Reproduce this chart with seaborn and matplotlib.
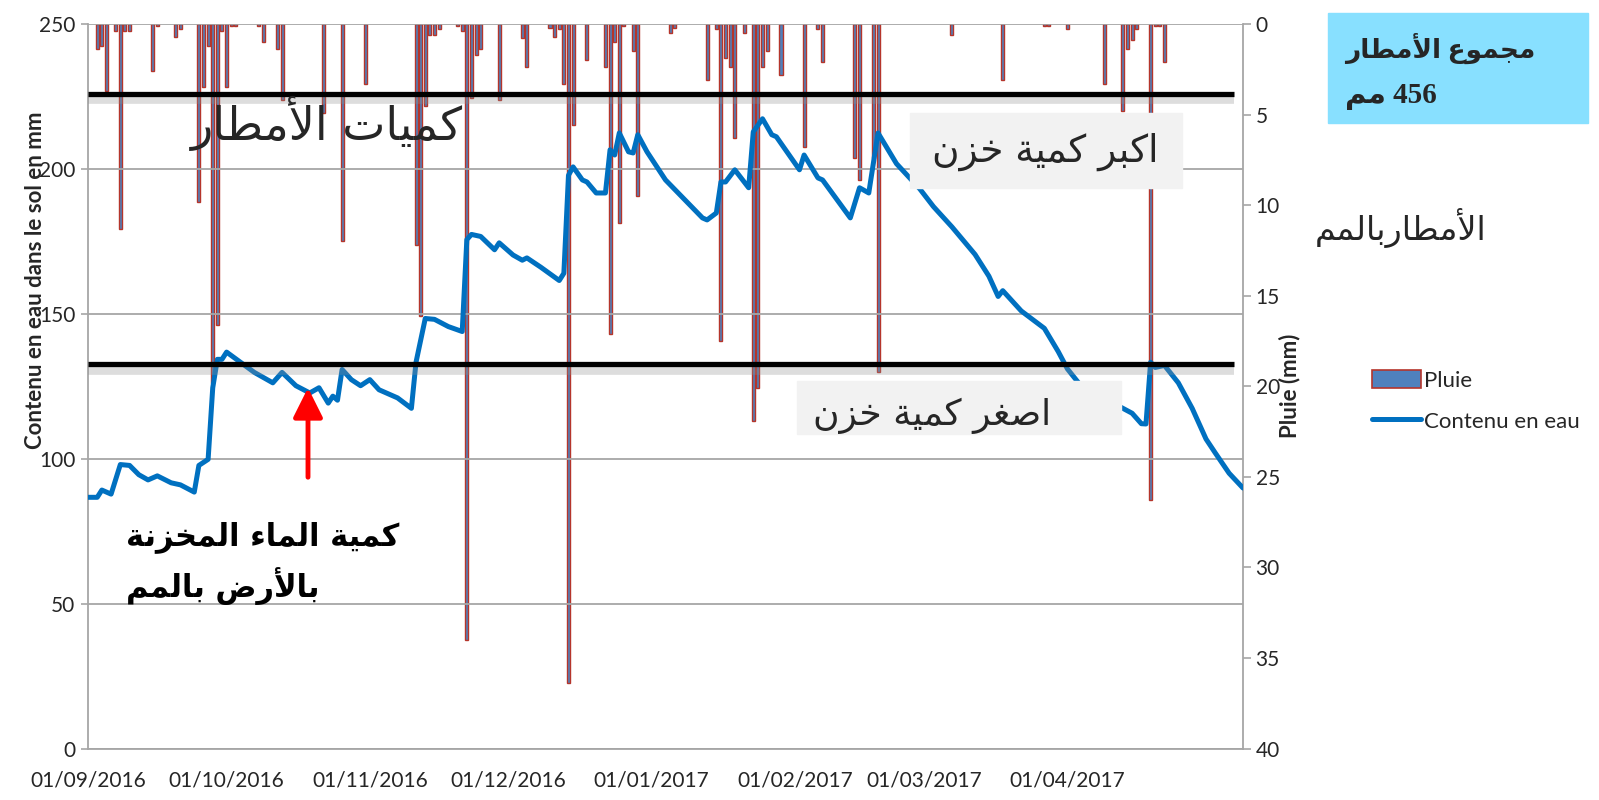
import numpy as np
import pandas as pd
import seaborn as sns
import matplotlib.pyplot as plt
import matplotlib.dates as mdates
import matplotlib.patheffects as pe
from matplotlib.patches import Rectangle, Patch, FancyArrowPatch
from matplotlib.lines import Line2D

# daily rain (mm), only the wet days
rain_dates = [
    "2016-09-03", "2016-09-04", "2016-09-05", "2016-09-07", "2016-09-08", "2016-09-09",
    "2016-09-10", "2016-09-15", "2016-09-16", "2016-09-20", "2016-09-21", "2016-09-25",
    "2016-09-26", "2016-09-27", "2016-09-28", "2016-09-29", "2016-09-30", "2016-10-01",
    "2016-10-02", "2016-10-03", "2016-10-08", "2016-10-09", "2016-10-12", "2016-10-13",
    "2016-10-22", "2016-10-26", "2016-10-31", "2016-11-11", "2016-11-12", "2016-11-13",
    "2016-11-14", "2016-11-15", "2016-11-16", "2016-11-20", "2016-11-21", "2016-11-22",
    "2016-11-23", "2016-11-24", "2016-11-25", "2016-11-29", "2016-12-04", "2016-12-05",
    "2016-12-10", "2016-12-11", "2016-12-12", "2016-12-13", "2016-12-14", "2016-12-15",
    "2016-12-18", "2016-12-22", "2016-12-23", "2016-12-24", "2016-12-25", "2016-12-26",
    "2016-12-28", "2016-12-29", "2017-01-05", "2017-01-06", "2017-01-13", "2017-01-15",
    "2017-01-16", "2017-01-17", "2017-01-18", "2017-01-19", "2017-01-21", "2017-01-23",
    "2017-01-24", "2017-01-25", "2017-01-26", "2017-01-29", "2017-02-03", "2017-02-06",
    "2017-02-07", "2017-02-14", "2017-02-15", "2017-02-18", "2017-02-19", "2017-03-07",
    "2017-03-18", "2017-03-27", "2017-03-28", "2017-04-01", "2017-04-09", "2017-04-13",
    "2017-04-14", "2017-04-15", "2017-04-16", "2017-04-19", "2017-04-20", "2017-04-21",
    "2017-04-22",
]
rain_mm = [
    1.4, 1.2, 3.7, 0.4, 11.3, 0.4,
    0.4, 2.6, 0.1, 0.7, 0.3, 9.8,
    3.5, 1.2, 19.8, 16.6, 0.4, 3.5,
    0.1, 0.1, 0.1, 1.0, 1.4, 4.2,
    4.9, 12.0, 3.3, 12.2, 16.1, 4.5,
    0.6, 0.6, 0.3, 0.1, 0.4, 34.0,
    4.1, 1.7, 1.4, 4.2, 0.8, 2.4,
    0.2, 0.7, 0.3, 3.3, 36.4, 5.6,
    2.0, 2.4, 17.1, 1.0, 11.0, 0.1,
    1.5, 9.5, 0.5, 0.2, 3.1, 0.3,
    17.5, 1.9, 2.4, 6.3, 0.5, 21.9,
    20.1, 2.4, 1.5, 2.8, 6.8, 0.3,
    2.1, 7.4, 8.6, 7.4, 19.2, 0.6,
    3.1, 0.1, 0.1, 0.3, 3.3, 4.8,
    1.4, 0.9, 0.3, 26.3, 0.1, 0.1,
    2.1,
]

# soil water content (mm)
water_dates = [
    "2016-09-01", "2016-09-03", "2016-09-04", "2016-09-06", "2016-09-08", "2016-09-10",
    "2016-09-12", "2016-09-14", "2016-09-16", "2016-09-19", "2016-09-21", "2016-09-24",
    "2016-09-25", "2016-09-27", "2016-09-28", "2016-09-29", "2016-09-30", "2016-10-01",
    "2016-10-04", "2016-10-07", "2016-10-09", "2016-10-11", "2016-10-13", "2016-10-16",
    "2016-10-19", "2016-10-21", "2016-10-23", "2016-10-24", "2016-10-25", "2016-10-26",
    "2016-10-28", "2016-10-30", "2016-11-01", "2016-11-03", "2016-11-07", "2016-11-10",
    "2016-11-11", "2016-11-13", "2016-11-15", "2016-11-18", "2016-11-21", "2016-11-22",
    "2016-11-23", "2016-11-25", "2016-11-28", "2016-11-29", "2016-12-02", "2016-12-04",
    "2016-12-05", "2016-12-08", "2016-12-12", "2016-12-13", "2016-12-14", "2016-12-15",
    "2016-12-17", "2016-12-18", "2016-12-20", "2016-12-22", "2016-12-23", "2016-12-24",
    "2016-12-25", "2016-12-27", "2016-12-28", "2016-12-29", "2016-12-31", "2017-01-04",
    "2017-01-12", "2017-01-13", "2017-01-15", "2017-01-16", "2017-01-17", "2017-01-19",
    "2017-01-22", "2017-01-23", "2017-01-25", "2017-01-27", "2017-01-28", "2017-02-02",
    "2017-02-03", "2017-02-06", "2017-02-07", "2017-02-13", "2017-02-15", "2017-02-17",
    "2017-02-19", "2017-02-23", "2017-02-28", "2017-03-03", "2017-03-07", "2017-03-12",
    "2017-03-15", "2017-03-17", "2017-03-18", "2017-03-22", "2017-03-27", "2017-03-30",
    "2017-04-01", "2017-04-04", "2017-04-06", "2017-04-09", "2017-04-10", "2017-04-13",
    "2017-04-15", "2017-04-17", "2017-04-18", "2017-04-19", "2017-04-20", "2017-04-22",
    "2017-04-25", "2017-04-28", "2017-05-01", "2017-05-03", "2017-05-06", "2017-05-09",
]
water_mm = [
    86.7, 86.7, 89.2, 87.8, 98.0, 97.7,
    94.5, 92.7, 94.1, 91.7, 91.0, 88.5,
    97.7, 99.8, 124.5, 134.3, 134.3, 136.8,
    133.3, 129.8, 128.0, 126.2, 129.8, 125.2,
    122.7, 124.5, 119.2, 121.6, 120.2, 130.8,
    127.3, 125.2, 127.3, 123.8, 121.0, 117.4,
    133.3, 148.4, 148.1, 145.6, 143.9, 175.6,
    177.4, 176.7, 172.1, 174.5, 170.3, 168.5,
    169.3, 166.1, 161.5, 164.0, 197.8, 200.7,
    196.2, 195.5, 191.7, 191.7, 206.6, 204.8,
    212.4, 205.9, 205.5, 211.8, 205.9, 196.2,
    183.1, 182.4, 184.8, 195.5, 195.5, 199.7,
    193.5, 212.8, 217.3, 211.8, 211.1, 199.7,
    204.8, 196.9, 196.2, 183.1, 193.5, 191.7,
    212.4, 201.8, 193.2, 187.0, 180.0, 170.5,
    163.0, 156.0, 158.0, 151.0, 145.0, 137.0,
    131.0, 125.0, 121.0, 118.0, 120.0, 117.4,
    115.7, 112.1, 112.0, 133.3, 131.5, 132.2,
    126.2, 117.4, 106.8, 102.0, 95.0, 89.9,
]

month_ticks = ["2016-09-01", "2016-10-01", "2016-11-01", "2016-12-01",
               "2017-01-01", "2017-02-01", "2017-03-01", "2017-04-01"]
x_start, x_end = "2016-09-01", "2017-05-09"
max_storage, min_storage = 226.0, 132.6
level_end = "2017-05-07"
total_rain = 456

# Arabic presentation forms: isolated, final, initial, medial
FORMS = {
    "ا": ("\ufe8d", "\ufe8e", None, None),
    "أ": ("\ufe83", "\ufe84", None, None),
    "ب": ("\ufe8f", "\ufe90", "\ufe91", "\ufe92"),
    "ة": ("\ufe93", "\ufe94", None, None),
    "ت": ("\ufe95", "\ufe96", "\ufe97", "\ufe98"),
    "ج": ("\ufe9d", "\ufe9e", "\ufe9f", "\ufea0"),
    "خ": ("\ufea5", "\ufea6", "\ufea7", "\ufea8"),
    "ر": ("\ufead", "\ufeae", None, None),
    "ز": ("\ufeaf", "\ufeb0", None, None),
    "ص": ("\ufeb9", "\ufeba", "\ufebb", "\ufebc"),
    "ض": ("\ufebd", "\ufebe", "\ufebf", "\ufec0"),
    "ط": ("\ufec1", "\ufec2", "\ufec3", "\ufec4"),
    "ع": ("\ufec9", "\ufeca", "\ufecb", "\ufecc"),
    "غ": ("\ufecd", "\ufece", "\ufecf", "\ufed0"),
    "ك": ("\ufed9", "\ufeda", "\ufedb", "\ufedc"),
    "ل": ("\ufedd", "\ufede", "\ufedf", "\ufee0"),
    "م": ("\ufee1", "\ufee2", "\ufee3", "\ufee4"),
    "ن": ("\ufee5", "\ufee6", "\ufee7", "\ufee8"),
    "و": ("\ufeed", "\ufeee", None, None),
    "ي": ("\ufef1", "\ufef2", "\ufef3", "\ufef4"),
    "ء": ("\ufe80", None, None, None),
}
LAM_ALEF = {"ا": ("\ufefb", "\ufefc"), "أ": ("\ufef7", "\ufef8")}


def shape(text):
    # no shaping engine in matplotlib: join letters by hand, then flip to visual order
    out = []
    prev_dual = False
    i = 0
    while i < len(text):
        c = text[i]
        nxt = text[i + 1] if i + 1 < len(text) else " "
        if c == "ل" and nxt in LAM_ALEF:
            out.append(LAM_ALEF[nxt][1 if prev_dual else 0])
            prev_dual = False
            i += 2
            continue
        if c not in FORMS:
            out.append(c)
            prev_dual = False
            i += 1
            continue
        iso, fin, ini, med = FORMS[c]
        a = prev_dual and fin is not None
        b = ini is not None and nxt in FORMS and FORMS[nxt][1] is not None
        if a and b:
            g = med
        elif a:
            g = fin
        elif b:
            g = ini
        else:
            g = iso
        out.append(g)
        prev_dual = ini is not None
        i += 1
    return "".join(out[::-1])


sns.set_theme(style="white")
plt.rcParams["font.family"] = ["Lato", "DejaVu Sans"]

W, H = 1599, 800


def fx(px):
    return px / W


def fy(py):
    return 1 - py / H


rain = pd.DataFrame({"date": pd.to_datetime(rain_dates), "mm": rain_mm})
water = pd.DataFrame({"date": pd.to_datetime(water_dates), "mm": water_mm})

fig = plt.figure(figsize=(W / 100, H / 100), dpi=100)
ax = fig.add_axes([fx(88), fy(748.6), (1243 - 88) / W, 724.6 / H])
ax2 = ax.twinx()

grey = "#A6A6A6"

ax2.bar(rain["date"], rain["mm"], width=0.65, color="#4F81BD",
        edgecolor="#B5352B", linewidth=1.0, zorder=2)
ax2.set_ylim(40, 0)
ax2.set_yticks(range(0, 41, 5))

sns.lineplot(data=water, x="date", y="mm", ax=ax, color="#0070C0",
             linewidth=3.6, zorder=3, legend=False)
ax.set_zorder(ax2.get_zorder() + 1)
ax.patch.set_visible(False)

ax.set_ylim(0, 250)
ax.set_yticks(range(0, 251, 50))
ax.set_xlim(pd.Timestamp(x_start), pd.Timestamp(x_end))
ax.set_xticks(pd.to_datetime(month_ticks))
ax.xaxis.set_major_formatter(mdates.DateFormatter("%d/%m/%Y"))
ax.grid(axis="y", color=grey, linewidth=1.3)
ax.grid(axis="x", visible=False)

shadow = [pe.SimpleLineShadow(offset=(0, -4), shadow_color="#909090", alpha=0.3, linewidth=7), pe.Normal()]
ax.hlines([max_storage, min_storage], pd.Timestamp(x_start), pd.Timestamp(level_end),
          colors="black", linewidth=3.8, zorder=5, path_effects=shadow)

for a in (ax, ax2):
    for s in a.spines.values():
        s.set_visible(False)
ax.spines["left"].set_visible(True)
ax.spines["bottom"].set_visible(True)
ax2.spines["right"].set_visible(True)
for s in (ax.spines["left"], ax.spines["bottom"], ax2.spines["right"]):
    s.set_color(grey)
    s.set_linewidth(1.3)

ax.tick_params(axis="both", labelsize=15, colors="#262626", length=5, width=1.2,
               direction="out", color=grey)
ax.tick_params(axis="y", pad=4)
ax.tick_params(axis="x", pad=11)
ax2.tick_params(axis="y", labelsize=15, colors="#262626", length=6, width=1.2,
                direction="out", color=grey, pad=3, right=True)

ax.set_xlabel("")
ax.set_ylabel("Contenu en eau dans le sol en mm", fontsize=16, fontweight="bold")
ax.yaxis.set_label_coords(-0.036, 0.647)
ax2.set_ylabel("Pluie (mm)", fontsize=16, fontweight="bold")
ax2.yaxis.set_label_coords(1.031, 0.5)

# grey label boxes
fig.add_artist(Rectangle((fx(910), fy(188)), (1182 - 910) / W, (188 - 113) / H,
                         transform=fig.transFigure, color="#F2F2F2", zorder=6))
fig.text(fx(1045), fy(152), shape("اكبر كمية خزن"), fontsize=27,
         ha="center", va="center", family="DejaVu Sans", zorder=7)
fig.add_artist(Rectangle((fx(797), fy(434)), (1121 - 797) / W, (434 - 381) / H,
                         transform=fig.transFigure, color="#F2F2F2", zorder=6))
fig.text(fx(932), fy(416), shape("اصغر كمية خزن"), fontsize=26,
         ha="center", va="center", family="DejaVu Sans", zorder=7)

fig.text(fx(327), fy(123), shape("كميات الأمطار"), fontsize=33,
         ha="center", va="center", family="DejaVu Sans", zorder=7)
fig.text(fx(126), fy(537), shape("كمية الماء المخزنة"), fontsize=22, fontweight="bold",
         ha="left", va="center", family="DejaVu Sans", color="black", zorder=7)
fig.text(fx(126), fy(586), shape("بالأرض بالمم"), fontsize=22, fontweight="bold",
         ha="left", va="center", family="DejaVu Sans", color="black", zorder=7)
fig.text(fx(1315), fy(228), shape("الأمطاربالمم"), fontsize=24,
         ha="left", va="center", family="DejaVu Sans", zorder=7)

# total rain box
fig.add_artist(Rectangle((fx(1328), fy(123)), (1588 - 1328) / W, (123 - 13) / H,
                         transform=fig.transFigure, color="#88E0FF", zorder=6))
fig.text(fx(1345), fy(48), shape("مجموع الأمطار"), fontsize=19, fontweight="bold",
         ha="left", va="center", family=["Liberation Serif", "DejaVu Sans"], zorder=7)
fig.text(fx(1345), fy(96), shape("مم") + " " + str(total_rain), fontsize=21, fontweight="bold",
         ha="left", va="center", family=["Liberation Serif", "DejaVu Sans"], zorder=7)

arrow = FancyArrowPatch((fx(308), fy(480)), (fx(308), fy(385)), transform=fig.transFigure,
                        arrowstyle="-|>,head_length=0.9,head_width=0.45", mutation_scale=20,
                        color="#FF0000", linewidth=3.5, zorder=7)
fig.add_artist(arrow)

handles = [Patch(facecolor="#4F81BD", edgecolor="#B5352B", linewidth=1.2),
           Line2D([], [], color="#0070C0", linewidth=3.6)]
fig.legend(handles, ["Pluie", "Contenu en eau"], loc="upper left",
           bbox_to_anchor=(fx(1352), fy(350)), frameon=False, fontsize=16,
           handlelength=2.2, handleheight=0.9, labelspacing=0.9, handletextpad=0.15)

fig.savefig("out.png", dpi=100)
